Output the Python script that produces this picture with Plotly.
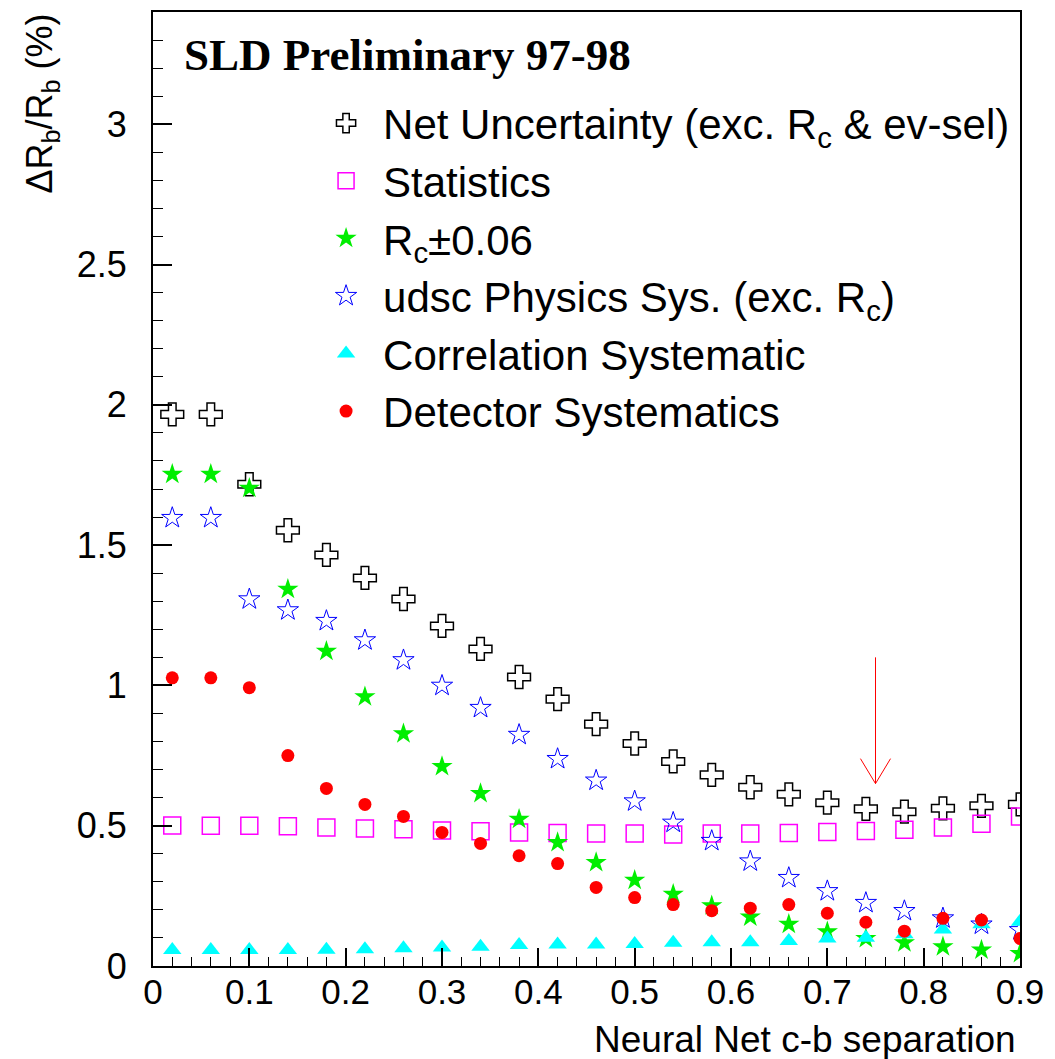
import plotly.graph_objects as go

x_vals = [0.02, 0.06, 0.10, 0.14, 0.18, 0.22, 0.26, 0.30, 0.34, 0.38, 0.42, 0.46,
          0.50, 0.54, 0.58, 0.62, 0.66, 0.70, 0.74, 0.78, 0.82, 0.86, 0.90]

net_unc = [1.966, 1.966, 1.717, 1.553, 1.465, 1.383, 1.308, 1.212, 1.130, 1.030, 0.951, 0.862,
           0.793, 0.729, 0.681, 0.637, 0.612, 0.582, 0.560, 0.550, 0.562, 0.571, 0.576]
statistics = [0.501, 0.500, 0.500, 0.498, 0.494, 0.490, 0.487, 0.483, 0.480, 0.476, 0.474, 0.472,
              0.472, 0.469, 0.472, 0.472, 0.474, 0.478, 0.481, 0.486, 0.494, 0.507, 0.533]
rc_sys = [1.753, 1.753, 1.703, 1.343, 1.122, 0.960, 0.828, 0.711, 0.615, 0.523, 0.440, 0.369,
          0.306, 0.256, 0.215, 0.175, 0.149, 0.122, 0.098, 0.083, 0.069, 0.057, 0.045]
udsc_sys = [1.597, 1.597, 1.307, 1.268, 1.230, 1.161, 1.090, 0.999, 0.920, 0.824, 0.738, 0.661,
            0.587, 0.511, 0.446, 0.373, 0.314, 0.267, 0.225, 0.196, 0.170, 0.148, 0.128]
corr_sys = [0.057, 0.057, 0.057, 0.057, 0.058, 0.060, 0.063, 0.066, 0.069, 0.075, 0.077, 0.077,
            0.078, 0.083, 0.085, 0.085, 0.089, 0.098, 0.101, 0.113, 0.130, 0.149, 0.158]
det_sys = [1.027, 1.027, 0.992, 0.750, 0.633, 0.576, 0.533, 0.476, 0.437, 0.393, 0.365, 0.280,
           0.244, 0.219, 0.197, 0.206, 0.219, 0.188, 0.156, 0.124, 0.170, 0.164, 0.098]

names = ["Net Uncertainty (exc. R<sub>c</sub> &amp; ev-sel)",
         "Statistics",
         "R<sub>c</sub>±0.06",
         "udsc Physics Sys. (exc. R<sub>c</sub>)",
         "Correlation Systematic",
         "Detector Systematics"]

# cut position indicated by the arrow
arrow_x = 0.75
arrow_top = 1.10
arrow_tip = 0.65

x_range = [0, 0.9]
y_range = [0, 3.4]

SANS = "Liberation Sans, Arial, Helvetica, sans-serif"
SERIF = "Liberation Serif, Times New Roman, serif"

fig = go.Figure()

series = [
    (net_unc, names[0], dict(symbol="cross-open", size=19, color="black", line=dict(color="black", width=1.5))),
    (statistics, names[1], dict(symbol="square-open", size=17, color="#ff00ff", line=dict(color="#ff00ff", width=1.5))),
    (rc_sys, names[2], dict(symbol="star", size=16, color="#00ee00", line=dict(width=0))),
    (udsc_sys, names[3], dict(symbol="star-open", size=16, color="#0000ff", line=dict(color="#0000ff", width=1))),
    (corr_sys, names[4], dict(symbol="triangle-up", size=16, color="#00ffff", line=dict(width=0))),
    (det_sys, names[5], dict(symbol="circle", size=13, color="#ff0000", line=dict(width=0))),
]

for i, (vals, nm, mk) in enumerate(series):
    fig.add_trace(go.Scatter(x=x_vals, y=vals, mode="markers", name=nm, marker=mk,
                             legendgroup=f"g{i}"))

# arrow as shapes in data coordinates
x_span = x_range[1] - x_range[0]
y_span = y_range[1] - y_range[0]
head_dx = 0.0156 * x_span / 0.9
head_dy = 0.089 * y_span / 3.4
fig.add_shape(type="line", xref="x", yref="y", x0=arrow_x, x1=arrow_x, y0=arrow_top, y1=arrow_tip,
              line=dict(color="#ff0000", width=1))
fig.add_shape(type="path", xref="x", yref="y",
              path=f"M {arrow_x - head_dx},{arrow_tip + head_dy} L {arrow_x},{arrow_tip} L {arrow_x + head_dx},{arrow_tip + head_dy}",
              line=dict(color="#ff0000", width=1))

fig.add_annotation(text="<b>SLD Preliminary 97-98</b>", xref="paper", yref="paper",
                   x=0.0334, y=0.955, xanchor="left", yanchor="middle", showarrow=False,
                   font=dict(family=SERIF, size=45, color="black"))

fig.add_annotation(text="ΔR<sub>b</sub>/R<sub>b</sub> (%)", xref="paper", yref="paper",
                   x=-0.128, y=0.904, xanchor="center", yanchor="middle", showarrow=False,
                   textangle=-90, font=dict(family=SANS, size=36, color="black"))

fig.add_annotation(text="Neural Net c-b separation", xref="paper", yref="paper",
                   x=0.9977, y=-0.0775, xanchor="right", yanchor="middle", showarrow=False,
                   font=dict(family=SANS, size=37, color="black"))

fig.update_xaxes(range=x_range, showgrid=False, zeroline=False, showline=True, linecolor="black",
                 linewidth=2, mirror=True, ticks="inside", ticklen=18, tickwidth=1.5, tickcolor="black",
                 dtick=0.1, tick0=0, tickfont=dict(family=SANS, size=35, color="black"),
                 ticklabelstandoff=-6,
                 minor=dict(dtick=0.02, tick0=0, ticks="inside", ticklen=9, tickwidth=1, tickcolor="black",
                            showgrid=False))
fig.update_yaxes(range=y_range, showgrid=False, zeroline=False, showline=True, linecolor="black",
                 linewidth=2, mirror=True, ticks="inside", ticklen=19, tickwidth=1.5, tickcolor="black",
                 dtick=0.5, tick0=0, tickfont=dict(family=SANS, size=36, color="black"),
                 ticklabelstandoff=17,
                 minor=dict(dtick=0.1, tick0=0, ticks="inside", ticklen=10, tickwidth=1, tickcolor="black",
                            showgrid=False))

fig.update_layout(
    width=1055, height=1059,
    margin=dict(l=153, r=35, t=10, b=93),
    paper_bgcolor="white", plot_bgcolor="white",
    showlegend=True,
    legend=dict(x=0.18, y=0.919, xanchor="left", yanchor="top", bgcolor="rgba(0,0,0,0)",
                font=dict(family=SANS, size=42, color="black"), tracegroupgap=0,
                itemwidth=64, borderwidth=0),
)

fig.write_html("out.html")
